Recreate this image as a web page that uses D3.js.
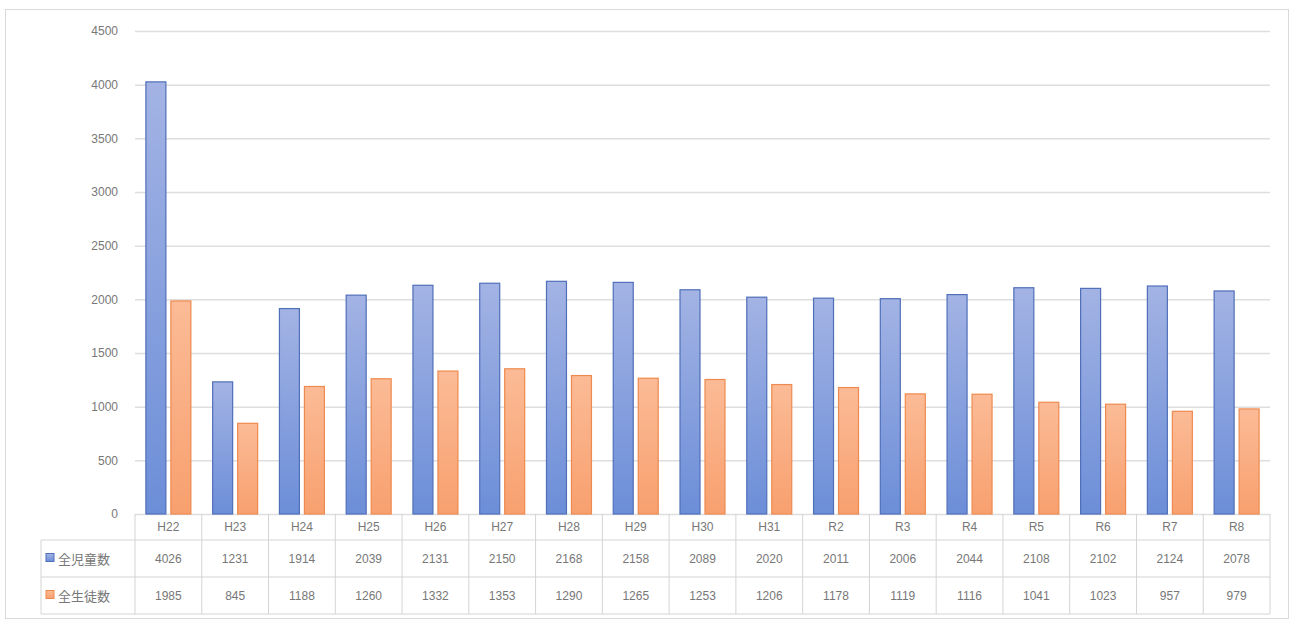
<!DOCTYPE html>
<html>
<head>
<meta charset="utf-8">
<script src="https://cdn.jsdelivr.net/npm/d3@7"></script>
<style>
  body { margin: 0; background: #fff; }
  svg { display: block; }
</style>
</head>
<body>
<svg width="1292" height="622"></svg>
<script>
// Chart data
const categories = ["H22", "H23", "H24", "H25", "H26", "H27", "H28", "H29", "H30", "H31", "R2", "R3", "R4", "R5", "R6", "R7", "R8"];
const seriesNames = ["全児童数", "全生徒数"];
const jidou = [4026, 1231, 1914, 2039, 2131, 2150, 2168, 2158, 2089, 2020, 2011, 2006, 2044, 2108, 2102, 2124, 2078];
const seito = [1985, 845, 1188, 1260, 1332, 1353, 1290, 1265, 1253, 1206, 1178, 1119, 1116, 1041, 1023, 957, 979];
const yTicks = [0, 500, 1000, 1500, 2000, 2500, 3000, 3500, 4000, 4500];

const svg = d3.select("svg");
const plot = {left: 135, right: 1270, top: 31, bottom: 514};
const rowH = [26, 37, 37];   // header row, series rows
const tableLeft = 41;
const textColor = "#777";
const gridColor = "#dedede";
const font = "'Liberation Sans', 'Noto Sans CJK JP', sans-serif";

const seriesValues = [jidou, seito];
const fills = [["#a3b3e4", "#6c8ed8"], ["#fbbb96", "#f8a06f"]];
const strokes = ["#4f6fb9", "#ee8a4f"];

// gradients
const defs = svg.append("defs");
fills.forEach((f, i) => {
    const g = defs.append("linearGradient").attr("id", "grad" + i)
        .attr("x1", 0).attr("y1", 0).attr("x2", 0).attr("y2", 1);
    g.append("stop").attr("offset", "0%").attr("stop-color", f[0]);
    g.append("stop").attr("offset", "100%").attr("stop-color", f[1]);
});

// outer frame
svg.append("rect")
    .attr("x", 5.5).attr("y", 9.5)
    .attr("width", 1283).attr("height", 609)
    .attr("fill", "#fff").attr("stroke", "#d9d9d9");

const x = d3.scaleBand().domain(categories).range([plot.left, plot.right]);
const xs = d3.scaleBand().domain(d3.range(seriesNames.length))
    .range([0, x.bandwidth()]).paddingInner(0.16).paddingOuter(0.416);
const y = d3.scaleLinear().domain([0, 4500]).range([plot.bottom, plot.top]);

// gridlines + y labels
const yAxis = svg.append("g")
    .attr("transform", `translate(${plot.left},0)`)
    .call(d3.axisLeft(y).tickValues(yTicks).tickFormat(d3.format("d"))
        .tickSize(-(plot.right - plot.left)).tickPadding(17));
yAxis.select(".domain").remove();
yAxis.selectAll(".tick line").attr("stroke", gridColor).attr("stroke-width", 1.5);
yAxis.selectAll(".tick text")
    .attr("fill", textColor).attr("font-size", "12px").attr("font-family", font);

// bars
seriesValues.forEach((vals, si) => {
    svg.append("g").selectAll("rect")
        .data(categories)
        .join("rect")
        .attr("x", d => x(d) + xs(si) + 0.5)
        .attr("y", (d, i) => y(vals[i]))
        .attr("width", xs.bandwidth() - 1)
        .attr("height", (d, i) => y(0) - y(vals[i]))
        .attr("fill", `url(#grad${si})`)
        .attr("stroke", strokes[si])
        .attr("stroke-width", 1.2);
});

// data table
const table = svg.append("g").attr("stroke", "#d4d4d4").attr("stroke-width", 1).attr("fill", "none");
const rowTop = [plot.bottom, plot.bottom + rowH[0], plot.bottom + rowH[0] + rowH[1]];
const tableBottom = rowTop[2] + rowH[2];

// vertical lines at band edges
table.selectAll("line.v")
    .data(categories.concat(["end"]))
    .join("line")
    .attr("x1", (d, i) => i < categories.length ? x(d) : plot.right)
    .attr("x2", (d, i) => i < categories.length ? x(d) : plot.right)
    .attr("y1", plot.bottom).attr("y2", tableBottom);
table.append("line").attr("x1", tableLeft).attr("x2", tableLeft).attr("y1", rowTop[1]).attr("y2", tableBottom);
[rowTop[1], rowTop[2], tableBottom].forEach(yy => {
    table.append("line").attr("x1", tableLeft).attr("x2", plot.right).attr("y1", yy).attr("y2", yy);
});

// header row (categories)
svg.append("g").selectAll("text")
    .data(categories)
    .join("text")
    .attr("x", d => x(d) + x.bandwidth() / 2)
    .attr("y", rowTop[0] + rowH[0] / 2 + 4)
    .attr("text-anchor", "middle")
    .attr("fill", textColor).attr("font-size", "12px").attr("font-family", font)
    .text(d => d);

// series rows
seriesValues.forEach((vals, si) => {
    const cy = rowTop[si + 1] + rowH[si + 1] / 2;
    svg.append("g").selectAll("text")
        .data(vals)
        .join("text")
        .attr("x", (d, i) => x(categories[i]) + x.bandwidth() / 2)
        .attr("y", cy + 4)
        .attr("text-anchor", "middle")
        .attr("fill", textColor).attr("font-size", "12px").attr("font-family", font)
        .text(d => d);
    // legend key
    svg.append("rect")
        .attr("x", 46).attr("y", cy - 5)
        .attr("width", 8).attr("height", 8)
        .attr("fill", `url(#grad${si})`).attr("stroke", strokes[si]);
    svg.append("text")
        .attr("x", 58).attr("y", cy + 5)
        .attr("fill", textColor).attr("font-size", "13px")
        .attr("font-family", "'Noto Sans CJK JP', sans-serif")
        .text(seriesNames[si]);
});
</script>
</body>
</html>
